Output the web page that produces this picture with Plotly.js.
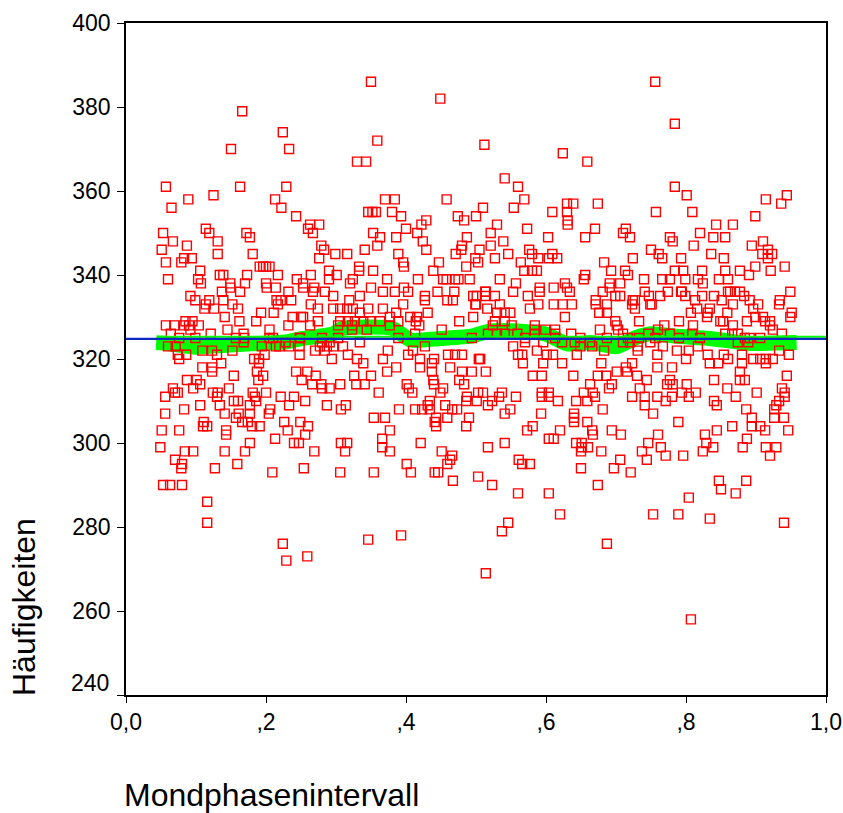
<!DOCTYPE html>
<html><head><meta charset="utf-8">
<script src="https://cdn.plot.ly/plotly-3.0.1.min.js"></script>
<style>html,body{margin:0;padding:0;background:#fff}</style></head>
<body><div id="chart" style="width:843px;height:813px"></div>
<script>
const countLevels=[386,382,379,376,374,372,371,370,369,367,363,361,359,358,357,356,355,354,353,352,351,350,349,348,347,346,345,344,343,342,341,340,339,338,337,336,335,334,333,332,331,330,329,328,327,326,325,324,323,322,321,320,319,318,317,316,315,314,313,312,311,310,309,308,307,306,305,304,303,302,301,300,299,298,297,296,295,294,293,292,291,290,289,288,287,286,283,282,281,279,278,277,276,273,272,269,258];
const phasesAtLevel=[
[.350,.756],[.449],[.166],[.784],[.224],[.359],[.512],[.150,.233],[.624],[.330,.343,.659],[.541],
[.057,.163,.229,.560,.784],[.125,.801,.944],[.089,.213,.370,.384,.458,.569,.914],[.630,.639,.674,.936],
[.065,.222,.510,.554],[.346,.352,.357,.380,.609,.630,.757,.809],[.243,.393,.474,.500,.899],[.429,.483,.631],
[.263,.276,.422,.631,.530,.843,.867],[.260,.114,.400,.573,.670,.714],[.053,.119,.172,.267,.353,.416,.521,.710,.820],
[.177,.363,.386,.487,.603,.656,.720,.777,.839,.856],[.067,.131,.424,.910,.539,.781],[.087,.279,.359,.480,.521,.811,.894],
[.051,.283,.341,.429,.479,.505,.576,.750,.917],[.131,.181,.299,.316,.389,.471,.546,.580,.609,.761,.836,.909,.923],
[.083,.094,.276,.499,.527,.589,.604,.616,.724,.766,.793,.854,.917],[.057,.079,.396,.447,.503,.564,.683],
[.191,.196,.200,.205,.333,.397,.486,.899,.941],[.106,.290,.333,.353,.439,.569,.580,.587,.693,.713,.784,.796,.823,.856,.877,.921],
[.134,.139,.173,.217,.264,.301,.656,.717,.890],
[.060,.103,.244,.290,.324,.373,.417,.453,.458,.470,.475,.491,.534,.654,.740,.766,.777,.799,.817,.847,.860],
[.107,.149,.170,.200,.253,.320,.557,.627,.691,.706,.824],[.214,.201,.253,.269,.350,.397,.149,.591,.611,.630,.691],
[.514,.553,.681,.741,.774,.793,.860,.870,.877,.949,.163,.137,.232,.267,.284,.367,.384,.403,.445,.469,.513,.591,.634,.794,.863],
[.092,.296,.334,.427,.496,.527,.574,.501,.513,.699,.706,.747,.763,.799,.823,.840,.883],
[.099,.119,.139,.236,.221,.215,.427,.459,.467,.319,.724,.727,.671,.813,.851,.891,.934],
[.114,.152,.217,.264,.396,.500,.499,.589,.723,.534,.611,.624,.637,.671,.687,.749,.751,.867,.903,.933],
[.112,.126,.160,.274,.296,.306,.316,.324,.346,.367,.516,.577,.727,.834,.816,.896],
[.193,.211,.334,.386,.431,.530,.541,.549,.676,.687,.807,.831,.859,.951],
[.141,.238,.250,.253,.377,.406,.416,.496,.627,.830,.899,.910,.949],
[.162,.186,.085,.095,.274,.306,.317,.327,.339,.349,.363,.389,.414,.476,.527,.541,.699,.733,.790,.849,.853,.887,.913,.920],
[.057,.069,.090,.104,.083,.232,.263,.303,.323,.377,.419,.584,.551,.524,.701,.810,.920,.867,.769],
[.205,.092,.145,.323,.344,.451,.703,.677,.584,.599,.613,.760,.924],
[.064,.121,.168,.413,.517,.530,.541,.559,.710,.746,.584,.613,.636,.777,.809,.856,.866,.874,.937],
[.076,.099,.157,.169,.205,.210,.248,.249,.280,.389,.303,.494,.570,.649,.687,.717,.733,.613,.756,.790,.820,.884,.906,.891],
[.168,.228,.334,.280,.291,.596,.623,.641,.663,.710,.720,.570,.749,.874,.889],
[.060,.071,.194,.214,.233,.248,.219,.427,.277,.287,.296,.310,.553,.731,.649,.666,.817,.767],
[.109,.123,.152,.270,.284,.410,.374,.587,.683,.731,.787,.804,.933],
[.074,.086,.248,.130,.198,.317,.403,.460,.470,.480,.644,.560,.566,.601,.610,.831,.854,.880,.947,.759],
[.076,.183,.190,.367,.294,.330,.420,.440,.504,.506,.800,.860,.896,.906,.914,.924],
[.136,.190,.339,.437,.567,.596,.623,.679,.723,.834,.846,.880,.914],
[.109,.123,.420,.386,.463,.714,.759,.780],
[.123,.187,.243,.259,.373,.437,.480,.494,.514,.701,.716,.877],
[.154,.196,.271,.326,.350,.581,.594,.639,.674,.686,.730,.944],
[.087,.101,.189,.251,.439,.476,.840,.744,.777,.877,.884],
[.106,.266,.279,.306,.329,.341,.401,.440,.483,.663,.694,.773,.781,.801],
[.067,.096,.147,.280,.291,.404,.453,.690,.734,.859,.937],
[.070,.074,.124,.131,.181,.200,.361,.409,.449,.503,.510,.537,.594,.604,.654,.667,.794,.814,.901,.941],
[.056,.130,.184,.221,.240,.487,.533,.557,.594,.604,.670,.723,.741,.759,.780,.804,.871,.941],
[.154,.160,.186,.256,.434,.486,.501,.523,.617,.643,.659,.771,.840,.933],
[.106,.134,.177,.233,.287,.314,.431,.456,.517,.741,.844,.929],
[.083,.206,.307,.390,.413,.423,.434,.466,.473,.549,.681,.886,.926],
[.056,.141,.161,.177,.204,.541,.593,.640,.753],
[.157,.354,.370,.443,.459,.490,.640,.894,.926,.940],
[.111,.166,.174,.226,.249,.441,.640,.659,.789],
[.110,.116,.180,.191,.260,.443,.486,.581,.866,.894,.906],
[.051,.076,.143,.231,.377,.573,.620,.666,.694,.844,.913,.946],
[.143,.256,.667,.707,.760,.827],[.366,.213,.604,.611,.887],
[.177,.240,.247,.307,.316,.421,.541,.643,.651,.746,.829],
[.049,.366,.517,.651,.660,.764,.839,.881,.914,.929],
[.084,.096,.141,.170,.269,.313,.377,.451,.650,.679,.737,.824],
[.466,.771,.796,.920],[.070,.463,.561,.706,.744],[.080,.159,.401,.459,.566,.577],[.079,.127,.254,.650,.697],
[.209,.306,.354,.407,.441,.446,.721],[.503],[.467,.847,.886],[.053,.063,.080,.523,.674],[.850],[.560,.604,.871],[.804],[.116],
[.620,.753,.789],[.834],[.116,.546,.940],[.537],[.393],[.346],[.224,.687],[.259],[.229],[.514],[.807]
];
const bandX=[.043,.060,.100,.143,.180,.230,.249,.296,.310,.380,.407,.450,.495,.520,.550,.600,.630,.666,.700,.730,.750,.787,.834,.891,.958];
const bandY=[323.9,323.7,322.8,323.3,323.6,324.1,324.8,326.0,327.3,327.3,324.5,324.9,325.5,326.7,326.7,325.9,323.6,323.9,322.9,325.2,326.0,325.4,324.9,323.7,323.9];
const fitGreenX=[.05,1];
const fitGreenY=[325.3,325.3];
const fitBlueX=[0,1];
const fitBlueY=[324.8,324.8];
const xTickVals=[0,.2,.4,.6,.8,1];
const xTickText=["0,0",",2",",4",",6",",8","1,0"];
const yTickVals=[240,260,280,300,320,340,360,380,400];
const yTickText=["","260","280","300","320","340","360","380","400"];
const pointX=[],pointY=[];
countLevels.forEach((c,i)=>phasesAtLevel[i].forEach(p=>{pointX.push(p);pointY.push(c);}));
const fontFam='"Liberation Sans",Arial,sans-serif';
const traces=[
 {x:bandX,y:bandY,mode:'lines',line:{color:'#00ff00',width:15,shape:'spline',smoothing:.6},hoverinfo:'skip'},
 {x:pointX,y:pointY,mode:'markers',marker:{symbol:'square-open',size:9,color:'#ff0000',line:{color:'#ff0000',width:1.4}}},
 {x:fitGreenX,y:fitGreenY,mode:'lines',line:{color:'#00ff00',width:2}},
 {x:fitBlueX,y:fitBlueY,mode:'lines',line:{color:'#0a2ac0',width:2.2}}
];
const layout={
 width:843,height:813,margin:{l:126,r:17,t:23,b:118},showlegend:false,
 paper_bgcolor:'#fff',plot_bgcolor:'#fff',font:{family:fontFam,color:'#000',size:23},
 xaxis:{range:[0,1],tickmode:'array',tickvals:xTickVals,ticktext:xTickText,ticks:'outside',ticklen:6,tickwidth:1.2,tickcolor:'#000',showgrid:false,zeroline:false,showline:true,linecolor:'#000',linewidth:1.5,mirror:true,tickfont:{size:23}},
 yaxis:{range:[240,400],tickmode:'array',tickvals:yTickVals,ticktext:yTickText,ticks:'outside',ticklen:7,tickwidth:1.2,tickcolor:'#000',showgrid:false,zeroline:false,showline:true,linecolor:'#000',linewidth:1.5,mirror:true,tickfont:{size:23},ticklabelstandoff:2},
 annotations:[
  {text:'240',xref:'paper',yref:'paper',x:0,y:0,xanchor:'right',yanchor:'middle',xshift:-15,yshift:12,showarrow:false,font:{size:23}},
  {text:'Mondphasenintervall',xref:'paper',yref:'paper',x:0,y:0,xanchor:'left',yanchor:'top',xshift:-4,yshift:-80,showarrow:false,font:{size:32}},
  {text:'Häufigkeiten',xref:'paper',yref:'paper',x:0,y:0,xanchor:'center',yanchor:'bottom',xshift:-102,yshift:-3,textangle:-90,showarrow:false,font:{size:32}}
 ]
};
Plotly.newPlot('chart',traces,layout,{displayModeBar:false,responsive:false});
</script></body></html>
